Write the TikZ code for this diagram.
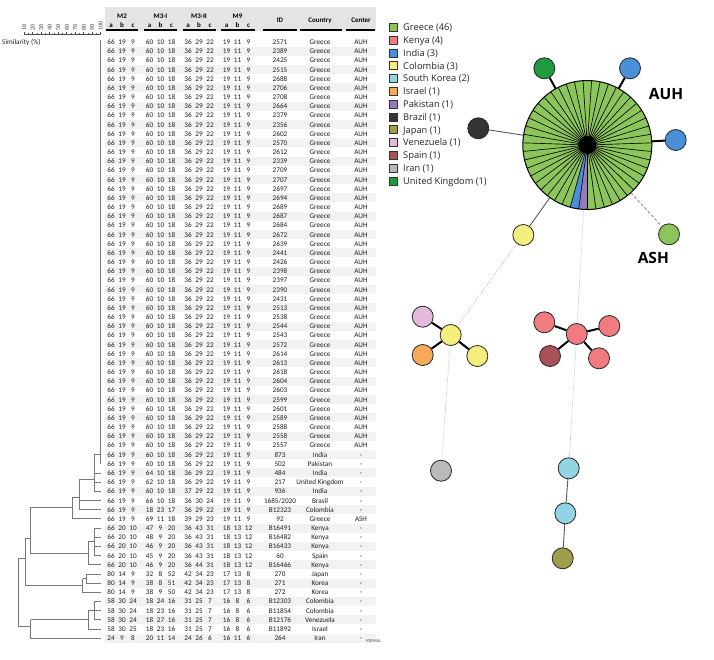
\documentclass[tikz,border=0pt]{standalone}
\usepackage{fontspec}
\setmainfont{Carlito}
\newfontfamily\legfont{Open Sans}
\definecolor{cGre}{RGB}{140,198,90}
\definecolor{cKen}{RGB}{240,124,130}
\definecolor{cInd}{RGB}{74,144,216}
\definecolor{cCol}{RGB}{244,238,125}
\definecolor{cKor}{RGB}{146,212,228}
\definecolor{cIsr}{RGB}{248,170,90}
\definecolor{cPak}{RGB}{150,120,190}
\definecolor{cBra}{RGB}{52,52,52}
\definecolor{cJap}{RGB}{158,158,75}
\definecolor{cVen}{RGB}{228,186,220}
\definecolor{cSpa}{RGB}{168,82,88}
\definecolor{cIra}{RGB}{186,186,186}
\definecolor{cUK}{RGB}{30,155,60}
\definecolor{rowshade}{RGB}{242,242,242}
\definecolor{headshade}{RGB}{228,228,228}
\definecolor{dendro}{RGB}{120,120,120}
\def\brid{1685/2020}
\begin{document}
\begin{tikzpicture}[x=1pt,y=-1pt,
  tabtxt/.style={font=\fontsize{7.2}{8}\selectfont, text=black!88, inner sep=0pt, anchor=base},
  headtxt/.style={font=\fontsize{7}{8}\selectfont\bfseries, inner sep=0pt, anchor=base},
  dline/.style={draw=dendro, line width=0.8pt},
  hap/.style={circle, draw=black!85, line width=0.8pt, minimum size=21pt, inner sep=0pt},
  thickedge/.style={draw=black, line width=2pt},
  thinedge/.style={draw=black!65, line width=0.9pt},
  dashedge/.style={draw=black!40, line width=1pt, dash pattern=on 3pt off 2pt},
  dotedge/.style={draw=black!30, line width=0.7pt, dash pattern=on 0.8pt off 1.2pt},
  legbox/.style={draw=black!80, line width=0.6pt, minimum size=8pt, inner sep=0pt},
  legtxt/.style={font=\legfont\fontsize{9.3}{11}\selectfont, inner sep=0pt, anchor=base west, text=black!85},
  sitelbl/.style={font=\legfont\bfseries\fontsize{15.5}{17}\selectfont, inner sep=0pt}
]
\useasboundingbox (0,0) rectangle (714,659);
\fill[white] (0,0) rectangle (714,659);

% ---------- similarity scale ----------
\draw[black!70, line width=0.6pt] (24.3,34.5) -- (100.7,34.5);
\foreach \k in {1,...,10}{
  \pgfmathsetmacro\sx{24.3+(\k-1)*8.49}
  \draw[black!70, line width=0.6pt] (\sx,34.5) -- (\sx,31.5);
  \node[rotate=90, anchor=west, font=\fontsize{6}{6}\selectfont, inner sep=0.4pt, text=black!75] (sc\k) at (\sx,30.8) {\number\numexpr\k*10\relax};
}
\foreach \k in {1,...,9}{
  \pgfmathsetmacro\sx{24.3+(\k-0.5)*8.49}
  \draw[black!70, line width=0.5pt] (\sx,34.5) -- (\sx,33);
}
\node[anchor=west, font=\fontsize{7.2}{8}\selectfont, inner sep=0pt, text=black!85] (simlbl) at (2,42) {Similarity (\%)};

% ---------- table header ----------
\fill[headshade] (105,7) rectangle (376,30.5);
\foreach \g/\gx in {M2/122, M3-I/160.5, M3-II/199, M9/237.5}{
  \node[headtxt] (h\g) at (\gx,18.5) {\g};
}
\foreach \j in {1,...,12}{
  \pgfmathsetmacro\cx{111+38.5*floor((\j-1)/3)+11*mod(\j-1,3)}
  \pgfmathtruncatemacro\m{mod(\j-1,3)}
  \node[headtxt] (hs\j) at (\cx,27.6) {\ifcase\m a\or b\or c\fi};
}
\foreach \xa/\xb in {106/138, 144/177, 182.5/215.5, 221/255, 263/297, 300/342, 346/375}{
  \draw[black, line width=1.1pt] (\xa,30) -- (\xb,30);
}
\node[headtxt] (hID) at (280,22.5) {ID};
\node[headtxt] (hCty) at (320,22.5) {Country};
\node[headtxt] (hCtr) at (361,22.5) {Center};

% ---------- row shading ----------
\foreach \i in {2,4,...,66}{
  \pgfmathsetmacro\ry{42+(\i-1)*9.17}
  \fill[rowshade] (105,{\ry-4.5}) rectangle (376,{\ry+4.5});
}

% ---------- Greek AUH rows ----------
\foreach \id [count=\i] in {2571,2389,2425,2515,2688,2706,2708,2664,2379,2356,2602,2570,2612,2339,2709,2707,2697,2694,2689,2687,2684,2672,2639,2441,2426,2398,2397,2390,2431,2513,2538,2544,2543,2572,2614,2613,2618,2604,2603,2599,2601,2589,2588,2558,2557}{
  \pgfmathsetmacro\ry{42+(\i-1)*9.17+2.5}
  \foreach \v [count=\j] in {66,19,9,60,10,18,36,29,22,19,11,9}{
    \pgfmathsetmacro\cx{111+38.5*floor((\j-1)/3)+11*mod(\j-1,3)}
    \node[tabtxt] (g\i-\j) at (\cx,\ry) {\v};
  }
  \node[tabtxt] (gid\i) at (280,\ry) {\id};
  \node[tabtxt] (gcty\i) at (320,\ry) {Greece};
  \node[tabtxt] (gctr\i) at (361,\ry) {AUH};
}

% ---------- other rows ----------
\foreach \i/\vals/\id/\cty/\ctr in {
46/{66,19,9,60,10,18,36,29,22,19,11,9}/873/India/-,
47/{66,19,9,60,10,18,36,29,22,19,11,9}/502/Pakistan/-,
48/{66,19,9,64,10,18,36,29,22,19,11,9}/484/India/-,
49/{66,19,9,62,10,18,36,29,22,19,11,9}/217/United Kingdom/-,
50/{66,19,9,60,10,18,37,29,22,19,11,9}/936/India/-,
51/{66,19,9,66,10,18,36,30,24,19,11,9}/\brid/Brasil/-,
52/{66,19,9,18,23,17,36,29,22,19,11,9}/B12323/Colombia/-,
53/{66,19,9,69,11,18,39,29,23,19,11,9}/92/Greece/ASH,
54/{66,20,10,47,9,20,36,43,31,18,13,12}/B16491/Kenya/-,
55/{66,20,10,48,9,20,36,43,31,18,13,12}/B16482/Kenya/-,
56/{66,20,10,46,9,20,36,43,31,18,13,12}/B16433/Kenya/-,
57/{66,20,10,45,9,20,36,43,31,18,13,12}/60/Spain/-,
58/{66,20,10,46,9,20,36,44,31,18,13,12}/B16466/Kenya/-,
59/{80,14,9,32,8,52,42,34,23,17,13,8}/270/Japan/-,
60/{80,14,9,38,8,51,42,34,23,17,13,8}/271/Korea/-,
61/{80,14,9,38,9,50,42,34,23,17,13,8}/272/Korea/-,
62/{58,30,24,18,24,16,31,25,7,16,8,6}/B12303/Colombia/-,
63/{58,30,24,18,23,16,31,25,7,16,8,6}/B11854/Colombia/-,
64/{58,30,24,18,27,16,31,25,7,16,8,6}/B12176/Venezuela/-,
65/{58,30,25,18,23,16,31,25,7,16,8,6}/B11892/Israel/-,
66/{24,9,8,20,11,14,24,26,6,16,11,6}/264/Iran/-}{
  \pgfmathsetmacro\ry{42+(\i-1)*9.17+2.5}
  \foreach \v [count=\j] in \vals{
    \pgfmathsetmacro\cx{111+38.5*floor((\j-1)/3)+11*mod(\j-1,3)}
    \node[tabtxt] (o\i-\j) at (\cx,\ry) {\v};
  }
  \node[tabtxt] (oid\i) at (280,\ry) {\id};
  \node[tabtxt] (octy\i) at (320,\ry) {\cty};
  \node[tabtxt] (octr\i) at (361,\ry) {\ctr};
}
\node[anchor=west, font=\fontsize{4.5}{5}\selectfont, inner sep=0pt, text=black!70] (nrm) at (366,641) {IORMAL};

% ---------- dendrogram ----------
\draw[dline] (100.7,40) -- (100.7,463.8);
\draw[dline] (94,454.6) -- (100.7,454.6);
\draw[dline] (94,454.6) -- (94,491.3);
\foreach \yy in {473,482.1,491.3} \draw[dline] (94,\yy) -- (100.7,\yy);
\draw[dline] (79.3,479) -- (94,479);
\draw[dline] (79.3,479) -- (79.3,509.7);
\draw[dline] (79.3,500.5) -- (100.7,500.5);
\draw[dline] (79.3,509.7) -- (100.7,509.7);
\draw[dline] (72.7,497) -- (79.3,497);
\draw[dline] (72.7,497) -- (72.7,518.8) -- (100.7,518.8);
\draw[dline] (94,528) -- (94,555.5);
\foreach \yy in {528,537.2,546.3,555.5} \draw[dline] (94,\yy) -- (100.7,\yy);
\draw[dline] (88.3,541.7) -- (94,541.7);
\draw[dline] (88.3,541.7) -- (88.3,564.7) -- (100.7,564.7);
\draw[dline] (30.7,507) -- (72.7,507);
\draw[dline] (30.7,507) -- (30.7,553.2) -- (88.3,553.2);
\draw[dline] (86.7,573.9) -- (100.7,573.9);
\draw[dline] (86.7,573.9) -- (86.7,583) -- (100.7,583);
\draw[dline] (82.7,578.5) -- (86.7,578.5);
\draw[dline] (82.7,578.5) -- (82.7,592.2) -- (100.7,592.2);
\draw[dline] (25,538) -- (30.7,538);
\draw[dline] (25,538) -- (25,585.3) -- (82.7,585.3);
\draw[dline] (94,601.4) -- (94,619.7);
\foreach \yy in {601.4,610.6,619.7} \draw[dline] (94,\yy) -- (100.7,\yy);
\draw[dline] (88.3,610.6) -- (94,610.6);
\draw[dline] (88.3,610.6) -- (88.3,628.9) -- (100.7,628.9);
\draw[dline] (30.7,619.7) -- (88.3,619.7);
\draw[dline] (30.7,619.7) -- (30.7,638.1) -- (100.7,638.1);
\draw[dline] (18.3,558.3) -- (25,558.3);
\draw[dline] (18.3,558.3) -- (18.3,626.7) -- (30.7,626.7);

% ---------- legend ----------
\foreach \c/\t [count=\k] in {cGre/Greece (46), cKen/Kenya (4), cInd/India (3), cCol/Colombia (3), cKor/South Korea (2), cIsr/Israel (1), cPak/Pakistan (1), cBra/Brazil (1), cJap/Japan (1), cVen/Venezuela (1), cSpa/Spain (1), cIra/Iran (1), cUK/United Kingdom (1)}{
  \pgfmathsetmacro\ly{27.3+(\k-1)*12.8}
  \node[legbox, fill=\c] (leg\k) at (393.3,\ly) {};
  \node[legtxt] (legt\k) at (403,{\ly+3.3}) {\t};
}

% ---------- network ----------
\node[circle, minimum size=129pt, inner sep=0pt] (auh) at (587.3,145) {};
\node[hap, fill=cUK] (uk) at (544.3,68.3) {};
\node[hap, fill=cInd] (ind1) at (630,68.3) {};
\node[hap, fill=cInd] (ind2) at (675.7,140) {};
\node[hap, fill=cBra] (bra) at (478.3,128.3) {};
\node[hap, fill=cCol] (col1) at (523.3,235) {};
\node[hap, fill=cGre] (ash) at (669,234.3) {};
\node[hap, fill=cCol] (colc) at (450.7,335) {};
\node[hap, fill=cVen] (ven) at (422.7,316.7) {};
\node[hap, fill=cIsr] (isr) at (422.7,355) {};
\node[hap, fill=cCol] (col3) at (477.3,356) {};
\node[hap, fill=cKen] (kenc) at (576.7,334) {};
\node[hap, fill=cKen] (ken1) at (544.3,322.3) {};
\node[hap, fill=cKen] (ken2) at (609.3,326) {};
\node[hap, fill=cSpa] (spa) at (550,356) {};
\node[hap, fill=cKen] (ken3) at (599,358.3) {};
\node[hap, fill=cIra] (ira) at (441,470.7) {};
\node[hap, fill=cKor] (kor1) at (568.7,468.3) {};
\node[hap, fill=cKor] (kor2) at (565.3,513.3) {};
\node[hap, fill=cJap] (jap) at (562.7,558.3) {};

% big pie node
\fill[cGre] (587.3,145) circle (64.5pt);
\fill[cPak] (587.3,145) -- plot[domain=262.3404:270, samples=6, variable=\t] ({587.3+64.5*cos(\t)},{145-64.5*sin(\t)}) -- cycle;
\fill[cInd] (587.3,145) -- plot[domain=254.6809:262.3404, samples=6, variable=\t] ({587.3+64.5*cos(\t)},{145-64.5*sin(\t)}) -- cycle;
\foreach \k in {0,...,46}{
  \draw[black, line width=0.65pt] (587.3,145) -- ({587.3+64.5*cos(270+\k*7.6596)},{145-64.5*sin(270+\k*7.6596)});
}
\fill[black] (587.3,145) circle (9pt);
\draw[black, line width=1pt] (587.3,145) circle (64.5pt);

% edges
\draw[thickedge] (auh) -- (uk);
\draw[thickedge] (auh) -- (ind1);
\draw[thickedge] (auh) -- (ind2);
\draw[thinedge] (auh) -- (bra);
\draw[thinedge] (auh) -- (col1);
\draw[dashedge] (auh) -- (ash);
\draw[dotedge] (auh) -- (kenc);
\draw[dotedge] (col1) -- (colc);
\draw[dotedge] (colc) -- (ira);
\draw[dotedge] (kenc) -- (kor1);
\draw[thickedge] (colc) -- (ven);
\draw[thickedge] (colc) -- (isr);
\draw[thickedge] (colc) -- (col3);
\draw[thickedge] (kenc) -- (ken1);
\draw[thickedge] (kenc) -- (ken2);
\draw[thickedge] (kenc) -- (spa);
\draw[thickedge] (kenc) -- (ken3);
\draw[thinedge] (kor1) -- (kor2);
\draw[thinedge] (kor2) -- (jap);

\node[sitelbl] (lauh) at (666,94) {AUH};
\node[sitelbl] (lash) at (653.3,258.3) {ASH};
\end{tikzpicture}
\end{document}
